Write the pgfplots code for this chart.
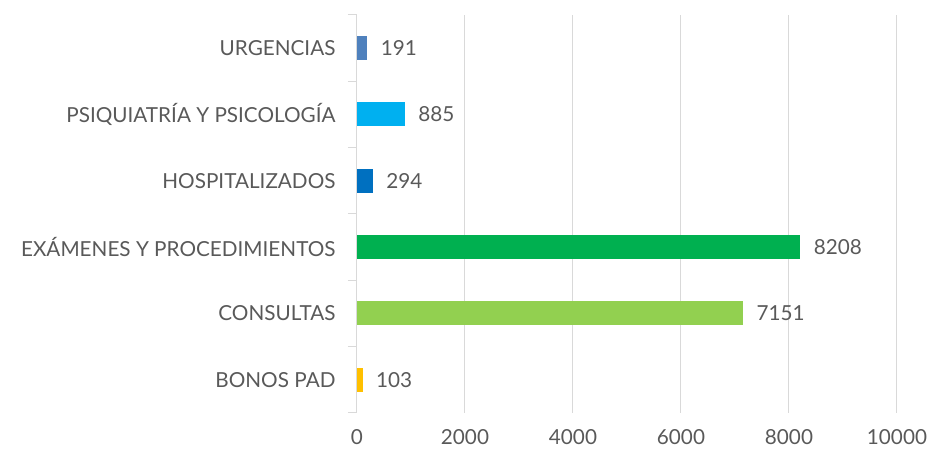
\documentclass[border=0pt]{standalone}
\usepackage{pgfplots}
\pgfplotsset{compat=1.18}
\usepackage{fontspec}
\setmainfont{Lato}
\definecolor{txt}{HTML}{595959}
\definecolor{grd}{HTML}{D9D9D9}
\definecolor{cUrg}{HTML}{4F81BD}
\definecolor{cPsi}{HTML}{00B0F0}
\definecolor{cHos}{HTML}{0070C0}
\definecolor{cExa}{HTML}{00B050}
\definecolor{cCon}{HTML}{92D050}
\definecolor{cBon}{HTML}{FFC000}
\begin{document}
\begin{tikzpicture}
\useasboundingbox (-357pt,-45pt) rectangle (578pt,413pt);
\begin{axis}[
  at={(0,0)}, anchor=south west,
  scale only axis, width=540pt, height=398pt,
  xbar, bar width=24pt, bar shift=0pt,
  xmin=0, xmax=10000, xtick={0,2000,...,10000},
  scaled x ticks=false,
  ymin=-0.5, ymax=5.5, ytick={0,...,5},
  yticklabels={BONOS PAD,CONSULTAS,EXÁMENES Y PROCEDIMIENTOS,HOSPITALIZADOS,PSIQUIATRÍA Y PSICOLOGÍA,URGENCIAS},
  minor ytick={-0.5,0.5,...,5.5},
  axis x line*=bottom, axis y line*=left,
  x axis line style={draw=none},
  y axis line style={grd, line width=1pt},
  xmajorgrids, major grid style={grd, line width=1pt},
  major tick length=0pt, minor tick length=9pt,
  tick align=outside,
  minor tick style={grd, line width=1pt},
  xtick style={draw=none},
  ticklabel style={font=\fontsize{20.7}{22}\selectfont, text=txt},
  yticklabel style={xshift=-18pt},
  xticklabel style={yshift=-13pt},
  /pgf/number format/assume math mode=true,
  /pgf/number format/1000 sep={},
  nodes near coords,
  nodes near coords style={font=\fontsize{20.7}{22}\selectfont, text=txt, anchor=west, xshift=10pt},
  clip=false,
]
\addplot[fill=cBon, draw=none] coordinates {(103,0)};
\addplot[fill=cCon, draw=none] coordinates {(7151,1)};
\addplot[fill=cExa, draw=none] coordinates {(8208,2)};
\addplot[fill=cHos, draw=none] coordinates {(294,3)};
\addplot[fill=cPsi, draw=none] coordinates {(885,4)};
\addplot[fill=cUrg, draw=none] coordinates {(191,5)};
\end{axis}
\end{tikzpicture}
\end{document}
